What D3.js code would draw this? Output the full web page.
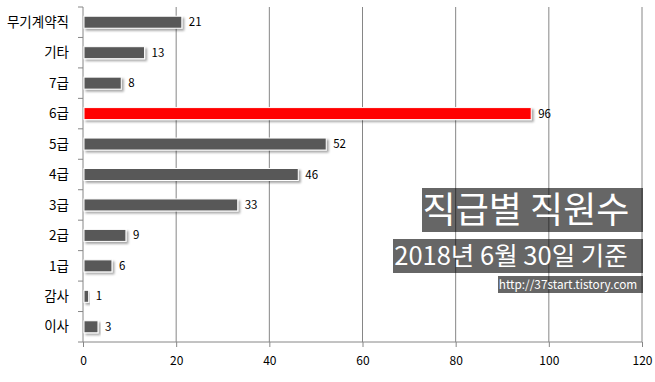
<!DOCTYPE html>
<html>
<head>
<meta charset="utf-8">
<script src="https://cdn.jsdelivr.net/npm/d3@7"></script>
<style>
  body { margin: 0; background: #fff; }
  svg text { font-family: "Noto Sans CJK KR", "Noto Sans", sans-serif; }
</style>
</head>
<body>
<script>
//직급별 직원수 data
var categories = ["무기계약직", "기타", "7급", "6급", "5급", "4급", "3급", "2급", "1급", "감사", "이사"];
var values = [21, 13, 8, 96, 52, 46, 33, 9, 6, 1, 3];
var xTicks = [0, 20, 40, 60, 80, 100, 120];
var highlight = "6급";

var w = 655, h = 382;

var svg = d3.select("body").append("svg")
    .attr("width", w)
    .attr("height", h);

//drop shadow for bars
var defs = svg.append("defs");
var f = defs.append("filter").attr("id", "shadow")
    .attr("x", "-10%").attr("y", "-40%").attr("width", "130%").attr("height", "200%");
f.append("feDropShadow")
    .attr("dx", 2).attr("dy", 2).attr("stdDeviation", 1.2)
    .attr("flood-color", "#000").attr("flood-opacity", 0.35);

var x = d3.scaleLinear().domain([0, 120]).range([83, 642]);
var yb = d3.scaleBand().domain(categories).range([7, 342]);

//gridlines
svg.selectAll(".grid")
    .data(xTicks.slice(1))
    .enter().append("line")
    .attr("class", "grid")
    .attr("x1", function(d){ return x(d); })
    .attr("x2", function(d){ return x(d); })
    .attr("y1", 7).attr("y2", 342)
    .style("stroke", "#868686");

//bottom axis
var xAxis = d3.axisBottom(x).tickValues(xTicks).tickSize(5).tickPadding(9);
var gx = svg.append("g")
    .attr("transform", "translate(0,342)")
    .call(xAxis);
gx.select(".domain").attr("d", "M" + x(0) + ",0H" + x(120)).style("stroke", "#868686");
gx.selectAll(".tick line").style("stroke", "#868686");
gx.selectAll(".tick text").style("font-size", "12px").style("fill", "#000");

//left axis with ticks at band boundaries
svg.append("line")
    .attr("x1", x(0)).attr("x2", x(0)).attr("y1", 7).attr("y2", 342)
    .style("stroke", "#868686");
var bounds = categories.map(function(c){ return yb(c); }).concat([342]);
svg.selectAll(".ytick")
    .data(bounds)
    .enter().append("line")
    .attr("x1", x(0) - 5).attr("x2", x(0))
    .attr("y1", function(d){ return d; }).attr("y2", function(d){ return d; })
    .style("stroke", "#868686");

svg.selectAll(".ylabel")
    .data(categories)
    .enter().append("text")
    .attr("x", 69)
    .attr("y", function(d){ return yb(d) + yb.bandwidth() / 2; })
    .attr("dy", "0.35em")
    .attr("text-anchor", "end")
    .style("font-size", "13.5px")
    .style("fill", "#000")
    .text(function(d){ return d; });

//bars
svg.selectAll(".bar")
    .data(values)
    .enter().append("rect")
    .attr("class", "bar")
    .attr("x", x(0) + 1)
    .attr("y", function(d, i){ return yb(categories[i]) + yb.bandwidth() / 2 - 6; })
    .attr("width", function(d){ return x(d) - x(0); })
    .attr("height", 12)
    .style("fill", function(d, i){ return categories[i] === highlight ? "#ff0000" : "#595959"; })
    .style("stroke", "#fff")
    .style("stroke-width", 1)
    .attr("filter", "url(#shadow)");

//value labels
svg.selectAll(".val")
    .data(values)
    .enter().append("text")
    .attr("x", function(d){ return x(d) + 8; })
    .attr("y", function(d, i){ return yb(categories[i]) + yb.bandwidth() / 2; })
    .attr("dy", "0.35em")
    .style("font-size", "11.5px")
    .style("fill", "#000")
    .text(function(d){ return d; });

//title boxes
var boxes = [
    { text: "직급별 직원수", x: 422, y: 188, w: 221, h: 44, size: 36, cx: 526 },
    { text: "2018년 6월 30일 기준", x: 393, y: 239, w: 250, h: 34, size: 25.5, cx: 511 },
    { text: "http://37start.tistory.com", x: 498, y: 276, w: 145, h: 17, size: 11.8, cx: 568 }
];
var bg = svg.selectAll(".box")
    .data(boxes)
    .enter().append("g");
bg.append("rect")
    .attr("x", function(d){ return d.x; })
    .attr("y", function(d){ return d.y; })
    .attr("width", function(d){ return d.w; })
    .attr("height", function(d){ return d.h; })
    .style("fill", "rgba(0,0,0,0.6)");
bg.append("text")
    .attr("x", function(d){ return d.cx; })
    .attr("y", function(d){ return d.y + d.h / 2; })
    .attr("dy", "0.35em")
    .attr("text-anchor", "middle")
    .style("font-size", function(d){ return d.size + "px"; })
    .style("fill", "#fff")
    .text(function(d){ return d.text; });
</script>
</body>
</html>
